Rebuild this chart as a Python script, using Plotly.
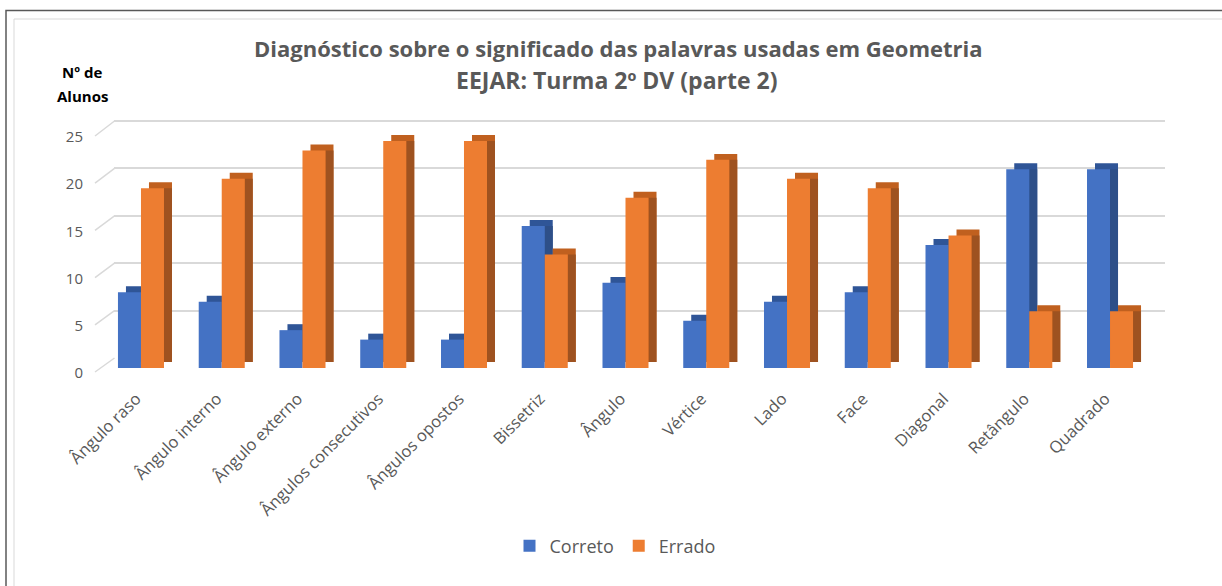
import plotly.graph_objects as go

categories = ["Ângulo raso", "Ângulo interno", "Ângulo externo", "Ângulos consecutivos",
              "Ângulos opostos", "Bissetriz", "Ângulo", "Vértice", "Lado", "Face",
              "Diagonal", "Retângulo", "Quadrado"]
correto = [8, 7, 4, 3, 3, 15, 9, 5, 7, 8, 13, 21, 21]
errado = [19, 20, 23, 24, 24, 12, 18, 22, 20, 19, 14, 6, 6]
y_ticks = [0, 5, 10, 15, 20, 25]

W, H = 1222, 586
FONT = "Open Sans"
GRAY = "#595959"


def fx(p):
    return p / W


def fy(p):
    return 1 - p / H


idx = list(range(len(categories)))
BW = 0.285   # front face width (category units)
DX = 0.099   # depth offset in x
DY = 0.63    # depth offset in y (value units)

series = [
    ("Correto", correto, "#4472C4", "#2F5597", "#2E4F88", -BW),
    ("Errado", errado, "#ED7D31", "#C0601F", "#9E5220", 0.0),
]

fig = go.Figure()

# invisible trace holding the back-wall gridline axes
fig.add_trace(go.Scatter(x=[0.5], y=[1], mode="markers", marker=dict(opacity=0),
                         xaxis="x", yaxis="y", showlegend=False, hoverinfo="skip"))

for name, vals, col, topc, sidec, off in series:
    fig.add_trace(go.Bar(x=idx, y=vals, base=DY, offset=off + DX, width=BW,
                         marker=dict(color=topc, line=dict(width=0)),
                         xaxis="x2", yaxis="y2", showlegend=False, hoverinfo="skip"))
    fig.add_trace(go.Bar(x=idx, y=[v - DY for v in vals], base=DY, offset=off + BW, width=DX,
                         marker=dict(color=sidec, line=dict(width=0)),
                         xaxis="x2", yaxis="y2", showlegend=False, hoverinfo="skip"))
    fig.add_trace(go.Bar(x=idx, y=vals, offset=off, width=BW, name=name,
                         marker=dict(color=col, line=dict(width=0)),
                         xaxis="x2", yaxis="y2"))

# invisible trace holding the front tick-label axis
fig.add_trace(go.Scatter(x=[0.5], y=[1], mode="markers", marker=dict(opacity=0),
                         xaxis="x3", yaxis="y3", showlegend=False, hoverinfo="skip"))

# floor diagonals from front labels to back gridlines (decoration)
diag = [dict(type="line", xref="paper", yref="paper", x0=fx(95), x1=fx(114.5),
             y0=fy(373 - v * 9.44 - 1), y1=fy(358 - v * 9.48),
             line=dict(color="#D9D9D9", width=1.5)) for v in y_ticks]

fig.update_layout(
    width=W, height=H,
    margin=dict(l=0, r=0, t=0, b=0, autoexpand=False),
    paper_bgcolor="white", plot_bgcolor="rgba(0,0,0,0)",
    barmode="overlay",
    font=dict(family=FONT, color=GRAY),
    xaxis=dict(domain=[fx(114), fx(1165)], range=[0, 1], showgrid=False, zeroline=False,
               showticklabels=False, ticks="", showline=False, anchor="y", automargin=False),
    yaxis=dict(domain=[fy(358), fy(116.3)], range=[0, 25.5], tickvals=y_ticks,
               showgrid=True, gridcolor="#D9D9D9", gridwidth=1.5, zeroline=False,
               showticklabels=False, ticks="", showline=False, anchor="x", automargin=False),
    xaxis2=dict(domain=[fx(100.6), fx(1150.4)], range=[-0.5, 12.5], anchor="y2",
                tickvals=[i - 0.06 for i in idx], ticktext=categories, tickangle=-45,
                tickfont=dict(size=16.5, color=GRAY, family=FONT), ticklabelstandoff=17,
                showgrid=False, zeroline=False, showline=False, ticks="", automargin=False),
    yaxis2=dict(domain=[fy(368), fy(120.1)], range=[0, 26.2], anchor="x2",
                showticklabels=False, showgrid=False, zeroline=False, showline=False,
                ticks="", automargin=False),
    xaxis3=dict(domain=[fx(100), fx(1150)], range=[0, 1], anchor="y3", visible=False,
                automargin=False),
    yaxis3=dict(domain=[fy(373), fy(137)], range=[0, 25], anchor="x3",
                tickvals=y_ticks, tickfont=dict(size=15, color=GRAY, family=FONT),
                showgrid=False, zeroline=False, showline=False, ticks="",
                ticklabelstandoff=16, automargin=False),
    legend=dict(orientation="h", x=fx(615), xanchor="center", y=fy(546), yanchor="middle",
                font=dict(size=18, color=GRAY, family=FONT), traceorder="normal",
                itemwidth=30),
    annotations=[
        dict(text="<b>Diagnóstico sobre o significado das palavras usadas em Geometria</b>",
             x=fx(618), y=fy(48), xref="paper", yref="paper", xanchor="center", yanchor="middle",
             showarrow=False, font=dict(size=22, color=GRAY, family=FONT)),
        dict(text="<b>EEJAR: Turma 2º DV (parte 2)</b>",
             x=fx(616), y=fy(80), xref="paper", yref="paper", xanchor="center", yanchor="middle",
             showarrow=False, font=dict(size=23, color=GRAY, family=FONT)),
        dict(text="<b>Nº de</b>", x=fx(82), y=fy(72), xref="paper", yref="paper",
             xanchor="center", yanchor="middle", showarrow=False,
             font=dict(size=15, color="black", family=FONT)),
        dict(text="<b>Alunos</b>", x=fx(82), y=fy(96), xref="paper", yref="paper",
             xanchor="center", yanchor="middle", showarrow=False,
             font=dict(size=15, color="black", family=FONT)),
    ],
    shapes=diag + [
        dict(type="rect", xref="paper", yref="paper", x0=fx(6), y0=fy(600), x1=fx(1240), y1=fy(10.5),
             line=dict(color="#595959", width=1.5)),
        dict(type="rect", xref="paper", yref="paper", x0=fx(14), y0=fy(600), x1=fx(1240), y1=fy(19),
             line=dict(color="#D9D9D9", width=1)),
    ],
)

fig.write_html("out.html", config={"displayModeBar": False},
               post_script="document.body.style.margin='0';document.body.style.overflow='hidden';")
